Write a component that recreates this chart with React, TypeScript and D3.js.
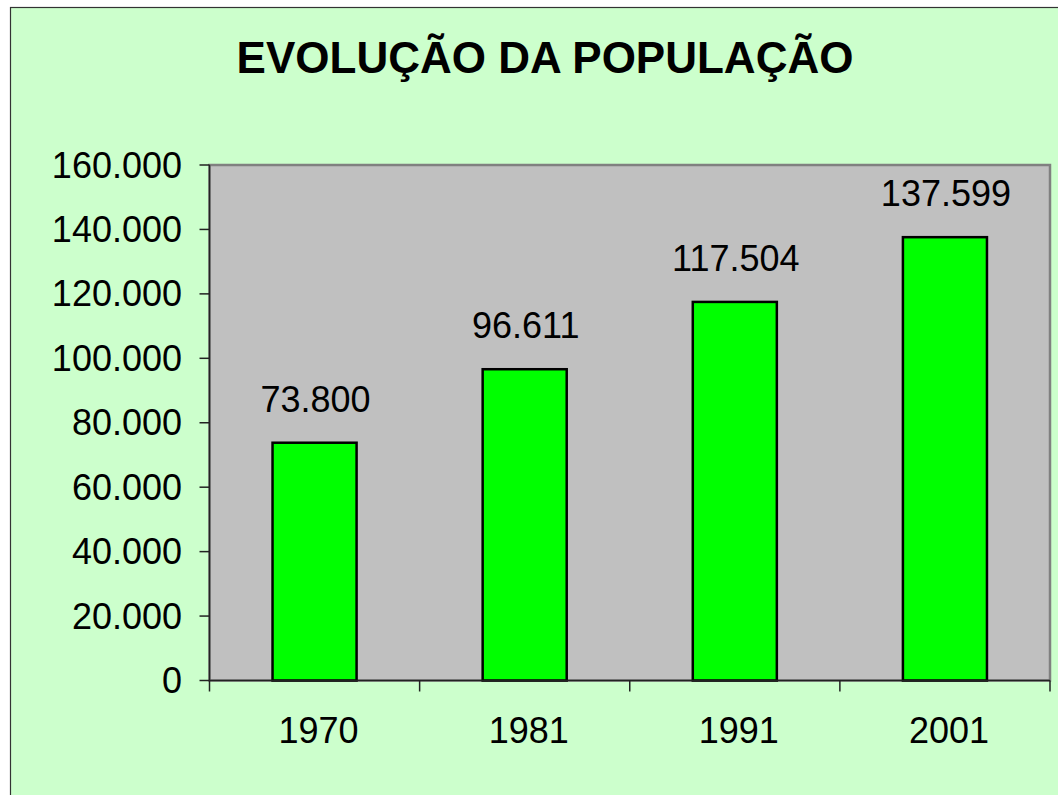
import React from 'react';
import * as d3 from 'd3';

const years = ['1970', '1981', '1991', '2001'];
const population = [73800, 96611, 117504, 137599];
const yTicks = [0, 20000, 40000, 60000, 80000, 100000, 120000, 140000, 160000];
const title = 'EVOLUÇÃO DA POPULAÇÃO';

const W = 1058;
const H = 795;
const plot = { left: 209.5, top: 165, right: 1050, bottom: 680.5 };

// 160000 -> "160.000"
const fmt = (v: number) => d3.format(',')(v).replace(/,/g, '.');

const App = () => {
  const x = d3.scaleBand<string>()
    .domain(years)
    .range([plot.left, plot.right])
    .paddingInner(0.6)
    .paddingOuter(0.3);

  const y = d3.scaleLinear()
    .domain([0, 160000])
    .range([plot.bottom, plot.top]);

  const font = 'Arial, "Liberation Sans", sans-serif';
  const step = (plot.right - plot.left) / years.length;

  return (
    <div style={{ position: 'absolute', left: 0, top: 0 }}>
      <svg width={W} height={H} style={{ display: 'block' }} fontFamily={font}>
        {/* chart background */}
        <rect x={10.5} y={7.5} width={W + 20} height={H + 20} fill="#CCFFCC" stroke="#333" strokeWidth={1.2} />

        <text x={545} y={73} textAnchor="middle" fontSize={44} fontWeight="bold" fill="#000">
          {title}
        </text>

        {/* plot area */}
        <rect x={plot.left} y={plot.top} width={plot.right - plot.left} height={plot.bottom - plot.top}
          fill="#C0C0C0" stroke="#808080" strokeWidth={2.5} />

        {/* bars */}
        {years.map((yr, i) => (
          <g key={yr}>
            <rect x={x(yr)} y={y(population[i])} width={x.bandwidth()}
              height={y(0) - y(population[i])} fill="#00FF00" stroke="#000" strokeWidth={2.5} />
            <text x={(x(yr) as number) + x.bandwidth() / 2 + 1} y={y(population[i]) - 31}
              textAnchor="middle" fontSize={36} fill="#000">
              {fmt(population[i])}
            </text>
          </g>
        ))}

        {/* y axis */}
        <line x1={plot.left} x2={plot.left} y1={plot.top} y2={plot.bottom} stroke="#222" strokeWidth={1.5} />
        {yTicks.map(t => (
          <g key={t}>
            <line x1={plot.left - 10} x2={plot.left} y1={y(t)} y2={y(t)} stroke="#222" strokeWidth={1.5} />
            <text x={182} y={y(t)} dy="0.35em" textAnchor="end" fontSize={36} fill="#000">
              {fmt(t)}
            </text>
          </g>
        ))}

        {/* x axis */}
        <line x1={plot.left} x2={plot.right} y1={plot.bottom} y2={plot.bottom} stroke="#222" strokeWidth={1.5} />
        {d3.range(years.length + 1).map(i => (
          <line key={i} x1={plot.left + i * step} x2={plot.left + i * step}
            y1={plot.bottom} y2={plot.bottom + 11} stroke="#222" strokeWidth={1.5} />
        ))}
        {years.map(yr => (
          <text key={yr} x={(x(yr) as number) + x.bandwidth() / 2 + 4} y={743}
            textAnchor="middle" fontSize={36} fill="#000">
            {yr}
          </text>
        ))}
      </svg>
    </div>
  );
};

export default App;
